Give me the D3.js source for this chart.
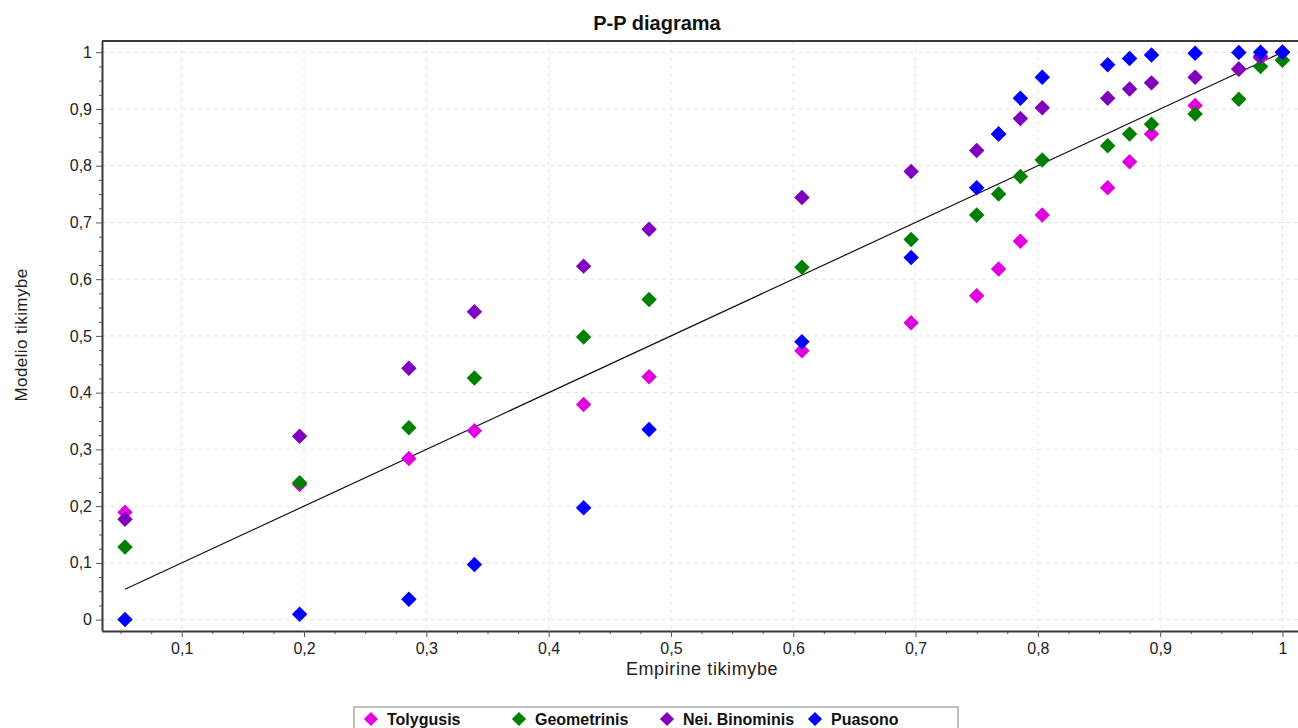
<!DOCTYPE html>
<html>
<head>
<meta charset="utf-8">
<script src="https://cdn.jsdelivr.net/npm/d3@7"></script>
<style>
  body { margin: 0; background: #fff; }
  svg { display: block; font-family: "Liberation Sans", Arial, sans-serif; }
  .tick text { fill: #222; font-size: 16px; }
  .grid line { stroke: #e4e4e4; stroke-dasharray: 4 4; }
</style>
</head>
<body>
<div class="container"></div>
<script>
// empirical probability (x) shared by every series
const empirical = [0.0536, 0.1964, 0.2857, 0.3393, 0.4286, 0.4821, 0.6071, 0.6964, 0.75,
  0.7679, 0.7857, 0.8036, 0.8571, 0.875, 0.8929, 0.9286, 0.9643, 0.9821, 1.0];

// model probability for each distribution
const tolygusis = [0.189, 0.238, 0.284, 0.333, 0.379, 0.428, 0.474, 0.523, 0.571,
  0.618, 0.667, 0.713, 0.761, 0.807, 0.856, 0.906, 0.97, 0.99, 1.0];
const geometrinis = [0.128, 0.241, 0.338, 0.426, 0.498, 0.564, 0.621, 0.67, 0.713,
  0.75, 0.781, 0.81, 0.835, 0.856, 0.873, 0.891, 0.917, 0.975, 0.986];
const neiBinominis = [0.177, 0.323, 0.443, 0.5425, 0.623, 0.688, 0.744, 0.79, 0.827,
  0.856, 0.883, 0.902, 0.919, 0.935, 0.946, 0.956, 0.9705, 0.993, 1.0];
const puasono = [0.0, 0.0094, 0.036, 0.097, 0.197, 0.335, 0.4896, 0.638, 0.761,
  0.856, 0.919, 0.956, 0.978, 0.989, 0.995, 0.998, 0.9995, 0.9998, 1.0];

const seriesNames = ["Tolygusis", "Geometrinis", "Nei. Binominis", "Puasono"];
const seriesColors = ["#e000e0", "#008000", "#8000c0", "#0000ff"];
const seriesValues = [tolygusis, geometrinis, neiBinominis, puasono];

const xTicks = [0.1, 0.2, 0.3, 0.4, 0.5, 0.6, 0.7, 0.8, 0.9, 1];
const yTicks = [0, 0.1, 0.2, 0.3, 0.4, 0.5, 0.6, 0.7, 0.8, 0.9, 1];
const refLine = [0.0536, 1];

const W = 1298, H = 728;
const plot = { left: 102, right: 1298, top: 41, bottom: 631 };

const svg = d3
  .select(".container")
  .append("svg")
  .attr("width", W)
  .attr("height", H);

const x = d3.scaleLinear().domain([0.0348, 1.0127]).range([plot.left, plot.right]);
const y = d3.scaleLinear().domain([-0.0201, 1.0198]).range([plot.bottom, plot.top]);

const fmt = (d) => String(+d.toFixed(2)).replace(".", ",");

// grid
svg.append("g").attr("class", "grid")
  .selectAll("line").data(xTicks).join("line")
  .attr("x1", (d) => x(d)).attr("x2", (d) => x(d))
  .attr("y1", plot.top).attr("y2", plot.bottom);
svg.append("g").attr("class", "grid")
  .selectAll("line").data(yTicks).join("line")
  .attr("x1", plot.left).attr("x2", plot.right)
  .attr("y1", (d) => y(d)).attr("y2", (d) => y(d));

// minor ticks
const xMinor = d3.range(0.05, 1.001, 0.025).filter((v) => Math.abs(v * 10 - Math.round(v * 10)) > 0.01);
const yMinor = d3.range(0.025, 1.001, 0.025).filter((v) => Math.abs(v * 10 - Math.round(v * 10)) > 0.01);

svg.append("g")
  .attr("transform", `translate(0,${plot.bottom})`)
  .call(d3.axisBottom(x).tickValues(xMinor).tickSize(3).tickFormat(""))
  .call((g) => g.select(".domain").remove())
  .call((g) => g.selectAll("line").attr("stroke", "#555"));
svg.append("g")
  .attr("transform", `translate(${plot.left},0)`)
  .call(d3.axisLeft(y).tickValues(yMinor).tickSize(3).tickFormat(""))
  .call((g) => g.select(".domain").remove())
  .call((g) => g.selectAll("line").attr("stroke", "#555"));

// major axes
svg.append("g")
  .attr("transform", `translate(0,${plot.bottom})`)
  .call(d3.axisBottom(x).tickValues(xTicks).tickSize(6).tickSizeOuter(0).tickPadding(6).tickFormat(fmt))
  .call((g) => g.select(".domain").attr("stroke", "#3a3a3a").attr("stroke-width", 2))
  .call((g) => g.selectAll(".tick line").attr("stroke", "#555"));
svg.append("g")
  .attr("transform", `translate(${plot.left},0)`)
  .call(d3.axisLeft(y).tickValues(yTicks).tickSize(6).tickSizeOuter(0).tickPadding(4).tickFormat(fmt))
  .call((g) => g.select(".domain").attr("stroke", "#3a3a3a").attr("stroke-width", 2))
  .call((g) => g.selectAll(".tick line").attr("stroke", "#555"));

svg.append("line")
  .attr("x1", plot.left).attr("x2", plot.right)
  .attr("y1", plot.top).attr("y2", plot.top)
  .attr("stroke", "#3a3a3a").attr("stroke-width", 2);

// reference line y = x
svg.append("line")
  .attr("x1", x(refLine[0])).attr("y1", y(refLine[0]))
  .attr("x2", x(refLine[1])).attr("y2", y(refLine[1]))
  .attr("stroke", "#111").attr("stroke-width", 1.2);

// points
const diamond = d3.symbol(d3.symbolSquare, 120);
seriesValues.forEach((vals, i) => {
  svg.append("g")
    .selectAll("path")
    .data(vals)
    .join("path")
    .attr("d", diamond)
    .attr("fill", seriesColors[i])
    .attr("transform", (d, j) => `translate(${x(empirical[j])},${y(d)}) rotate(45)`);
});

// titles
svg.append("text")
  .attr("x", 657).attr("y", 30)
  .attr("text-anchor", "middle")
  .style("font-size", "20px").style("font-weight", "bold").style("fill", "#111")
  .text("P-P diagrama");

svg.append("text")
  .attr("x", 702).attr("y", 675)
  .attr("text-anchor", "middle")
  .style("font-size", "18px").style("letter-spacing", "0.6px").style("fill", "#222")
  .text("Empirine tikimybe");

svg.append("text")
  .attr("transform", "rotate(-90)")
  .attr("x", -335).attr("y", 27)
  .attr("text-anchor", "middle")
  .style("font-size", "17px").style("letter-spacing", "0.4px").style("fill", "#222")
  .text("Modelio tikimybe");

// legend
const legend = svg.append("g");
legend.append("rect")
  .attr("x", 354).attr("y", 707).attr("width", 604).attr("height", 40)
  .attr("fill", "#fff").attr("stroke", "#aaa").attr("stroke-width", 1.5);

const item = legend.selectAll(".item")
  .data(seriesNames)
  .join("g")
  .attr("transform", (d, i) => `translate(${371 + i * 148},719)`);
item.append("path")
  .attr("d", d3.symbol(d3.symbolSquare, 100))
  .attr("transform", "rotate(45)")
  .attr("fill", (d, i) => seriesColors[i]);
item.append("text")
  .attr("x", 16).attr("y", 6)
  .style("font-size", "16px").style("font-weight", "bold").style("fill", "#111")
  .text((d) => d);
</script>
</body>
</html>
